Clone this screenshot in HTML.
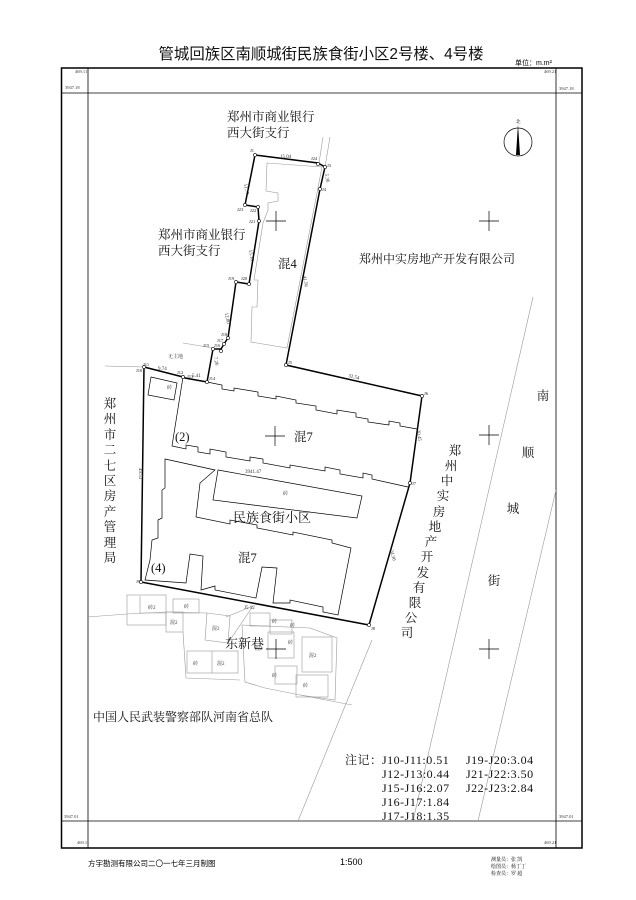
<!DOCTYPE html>
<html><head><meta charset="utf-8"><style>
html,body{margin:0;padding:0;background:#fff;}
svg{display:block;}
text{font-family:"Liberation Serif","Noto Serif CJK SC","Noto Sans CJK SC",serif;}
.s{font-family:"Liberation Sans","Noto Sans CJK SC",sans-serif;}
</style></head><body>
<svg width="636" height="900" viewBox="0 0 636 900" xmlns="http://www.w3.org/2000/svg">
<rect width="636" height="900" fill="#fff"/>
<text x="321" y="59" font-size="15.4" text-anchor="middle" class="s" fill="#111">管城回族区南顺城街民族食街小区2号楼、4号楼</text>
<text x="515" y="65" font-size="7" class="s">单位：m.m²</text>
<rect x="61.5" y="68" width="520.5" height="780" fill="none" stroke="#000" stroke-width="1.5"/>
<line x1="88" y1="68" x2="88" y2="848" stroke="#000" stroke-width="0.8"/>
<line x1="556" y1="68" x2="556" y2="848" stroke="#000" stroke-width="0.8"/>
<line x1="61" y1="93" x2="582" y2="93" stroke="#000" stroke-width="0.8"/>
<line x1="61" y1="821" x2="582" y2="821" stroke="#000" stroke-width="0.8"/>
<g font-size="4.5" class="s" fill="#333">
<text x="75" y="73">469.11</text><text x="65" y="89">3947.18</text>
<text x="544" y="73">469.21</text><text x="559" y="90">3947.18</text>
<text x="64" y="818">3947.01</text><text x="77" y="844">469.11</text>
<text x="559" y="818">3947.01</text><text x="544" y="844">469.21</text>
</g>
<g stroke="#999" stroke-width="0.6" fill="none">
<line x1="323" y1="137" x2="319" y2="163"/>
<line x1="330" y1="137" x2="325" y2="167"/>
<line x1="533" y1="297" x2="413" y2="821"/>
<line x1="556" y1="490" x2="478" y2="821"/>
<line x1="372" y1="640" x2="298" y2="821"/>
<line x1="183" y1="343" x2="213" y2="348"/>
<line x1="105" y1="366" x2="144" y2="367"/>
<polyline points="87,617 127,614 166,612 207,613"/>
</g>
<polygon points="267,163 322,167 287,348 251,342 252,307 257,307 258,280 254,280 263,223 268,210 268,203 278,201 278,193 266,191" fill="none" stroke="#999" stroke-width="0.6"/>
<g stroke="#000" stroke-width="0.7" fill="none">
<polyline points="207,382 222,385 222,389 234,391 234,388 258,392 258,396 276,399 276,396 296,400 296,403 316,406 316,410 337,414 337,410 356,413 356,417 368,419 368,422 389,425 389,421 400,423 400,426 417,429"/>
<polyline points="183,377 172,446 186,449 186,445 198,447 198,452 210,454 210,449 226,452 226,457 250,461 250,457 263,459 263,463 290,468 290,465 325,471 325,467 340,470 340,474 363,478 363,473 372,475 372,479 408,487"/>
<polygon points="151,377 177,383 174,400 148,395"/>
<polygon points="165,459 215,470 200,483 196,517 230,524 230,520 257,525 257,528 293,535 293,532 332,540 332,543 351,548 338,615 323,612 323,607 290,600 290,603 273,603 277,568 262,567 256,598 215,590 215,586 201,590 203,556 190,554 186,583 145,580 150,560 152,540 158,538 158,520 162,518 162,490 165,488"/>
<polygon points="218,470 362,496 357,518 213,500"/>
</g>
<g stroke="#999" stroke-width="0.6" fill="none">
<rect x="127" y="595" width="39" height="30"/>
<line x1="140" y1="596" x2="140" y2="613"/><line x1="140" y1="613" x2="166" y2="613"/>
<rect x="173" y="599" width="26" height="14"/>
<rect x="166" y="612" width="17" height="20"/>
<polygon points="207,613 230,616 228,643 205,640"/>
<rect x="187" y="651" width="51" height="22"/><line x1="212" y1="651" x2="212" y2="673"/>
<polygon points="242,625 310,628 337,638 335,700 300,695 265,688 245,682"/>
<polyline points="183,632 186,678 240,680"/>
<rect x="250" y="613" width="20" height="13"/>
<rect x="270" y="620" width="22" height="14"/>
<rect x="268" y="632" width="26" height="26"/>
<rect x="302" y="637" width="30" height="35"/>
<rect x="275" y="666" width="22" height="18"/>
<rect x="296" y="675" width="32" height="22"/>
<line x1="226" y1="617" x2="253" y2="606"/>
<line x1="228" y1="643" x2="253" y2="606"/>
<line x1="300" y1="695" x2="352" y2="705"/>
</g>
<polygon points="255,155 318,163 325,167 320,189 286,365 422,396 410,483 369,625 141,582 144,367 183,377 185,378 207,382 213,349 221,349 224,344 228,338 236,282 249,284 259,221 258,207 245,205" fill="none" stroke="#000" stroke-width="1.5"/>
<g fill="#fff" stroke="#000" stroke-width="0.6">
<circle cx="255" cy="155" r="1.6"/><circle cx="318" cy="164" r="1.6"/><circle cx="325" cy="167" r="1.6"/><circle cx="320" cy="189" r="1.6"/><circle cx="286" cy="365" r="1.6"/><circle cx="422" cy="396" r="1.6"/><circle cx="410" cy="483" r="1.6"/><circle cx="369" cy="625" r="1.6"/><circle cx="141" cy="582" r="1.6"/><circle cx="144" cy="367" r="1.6"/><circle cx="183" cy="377" r="1.6"/><circle cx="207" cy="382" r="1.6"/><circle cx="213" cy="349" r="1.6"/><circle cx="221" cy="351" r="1.6"/><circle cx="224" cy="344" r="1.6"/><circle cx="228" cy="338" r="1.6"/><circle cx="236" cy="282" r="1.6"/><circle cx="249" cy="284" r="1.6"/><circle cx="259" cy="221" r="1.6"/><circle cx="258" cy="207" r="1.6"/><circle cx="245" cy="205" r="1.6"/>
</g>
<g font-size="4.5" fill="#222">
<text x="250" y="152">J1</text><text x="311" y="160">J24</text><text x="327" y="167">J3</text><text x="322" y="191">J4</text>
<text x="288" y="364">J5</text><text x="424" y="395">J6</text><text x="412" y="485">J7</text><text x="371" y="630">J8</text>
<text x="136" y="583">J9</text><text x="136" y="372">J10</text><text x="143" y="366">J11</text><text x="177" y="374">J12</text>
<text x="187" y="378">J13</text><text x="209" y="380">J14</text><text x="203" y="347">J15</text><text x="214" y="347">J16</text>
<text x="217" y="342">J17</text><text x="221" y="336">J18</text><text x="228" y="280">J19</text><text x="241" y="280">J20</text>
<text x="249" y="223">J21</text><text x="250" y="212">J22</text><text x="237" y="211">J23</text>
</g>
<g font-size="5" fill="#333">
<text x="280" y="158">15.04</text>
<text x="244" y="184" transform="rotate(80 244 184)">11.77</text>
<text x="249" y="250" transform="rotate(80 249 250)">15.18</text>
<text x="225" y="313" transform="rotate(80 225 313)">12.80</text>
<text x="303" y="276" transform="rotate(80 303 276)">41.56</text>
<text x="325" y="174" transform="rotate(80 325 174)">5.36</text>
<text x="348" y="377" transform="rotate(13 348 377)">32.54</text>
<text x="158" y="370">9.74</text><text x="192" y="377">5.41</text>
<text x="417" y="430" transform="rotate(83 417 430)">30.45</text>
<text x="390" y="550" transform="rotate(75 390 550)">24.30</text>
<text x="139" y="468" transform="rotate(90 139 468)">49.53</text>
<text x="214" y="357" transform="rotate(80 214 357)">7.26</text>
<text x="245" y="473">3941.47</text>
<text x="168" y="358">无主地</text>
<text x="167" y="389">砖</text><text x="283" y="495">砖</text>
<text x="148" y="609">砖2</text><text x="184" y="608">砖</text><text x="170" y="624">混2</text><text x="212" y="630">混2</text>
<text x="193" y="665">砖</text><text x="217" y="665">混2</text><text x="272" y="623">砖</text><text x="290" y="627">砖</text>
<text x="288" y="644">砖</text><text x="309" y="657">混2</text><text x="255" y="650">混2</text><text x="303" y="687">砖</text><text x="272" y="677">砖</text>
<text x="244" y="609">J5 12</text>
</g>
<g stroke="#000" stroke-width="0.7">
<path d="M266 221H286M276 211V231"/><path d="M479 221H499M489 211V231"/>
<path d="M265 436H285M275 426V446"/><path d="M479 435H499M489 425V445"/>
<path d="M479 649H499M489 639V659"/><path d="M266 649H286M276 639V659"/>
</g>
<circle cx="518" cy="142" r="14" fill="none" stroke="#000" stroke-width="0.7"/>
<polygon points="518,124 520,155 516,155" fill="#000"/>
<text x="516" y="123" font-size="4.5">北</text>
<g font-size="12.5" fill="#111">
<text x="227" y="121">郑州市商业银行</text><text x="227" y="137">西大街支行</text>
<text x="158" y="239">郑州市商业银行</text><text x="158" y="255">西大街支行</text>
<text x="359" y="263" font-size="12">郑州中实房地产开发有限公司</text>
<text x="278" y="268">混4</text>
<text x="294" y="441">混7</text>
<text x="175" y="441">(2)</text>
<text x="233" y="522" font-size="13">民族食街小区</text>
<text x="238" y="562">混7</text>
<text x="151" y="572">(4)</text>
<text x="225" y="648" font-size="13">东新巷</text>
<text x="93" y="721" font-size="12">中国人民武装警察部队河南省总队</text>
</g>
<g font-size="12.5" fill="#111" text-anchor="middle">
<text x="110" y="408">郑</text><text x="110" y="423">州</text><text x="110" y="439">市</text><text x="110" y="454">二</text><text x="110" y="470">七</text><text x="110" y="485">区</text><text x="110" y="500">房</text><text x="110" y="516">产</text><text x="110" y="531">管</text><text x="110" y="547">理</text><text x="110" y="562">局</text>
<text x="455" y="455">郑</text><text x="451" y="470">州</text><text x="447" y="485">中</text><text x="443" y="500">实</text><text x="439" y="516">房</text><text x="435" y="531">地</text><text x="431" y="546">产</text><text x="427" y="561">开</text><text x="423" y="577">发</text><text x="419" y="592">有</text><text x="415" y="607">限</text><text x="411" y="622">公</text><text x="407" y="637">司</text>
<text x="543" y="400">南</text><text x="528" y="457">顺</text><text x="513" y="513">城</text><text x="494" y="585">街</text>
</g>
<g font-size="12" fill="#111" letter-spacing="0.5">
<text x="345" y="764">注记：</text>
<text x="382" y="764">J10-J11:0.51</text><text x="466" y="764">J19-J20:3.04</text>
<text x="382" y="778">J12-J13:0.44</text><text x="466" y="778">J21-J22:3.50</text>
<text x="382" y="792">J15-J16:2.07</text><text x="466" y="792">J22-J23:2.84</text>
<text x="382" y="806">J16-J17:1.84</text>
<text x="382" y="820">J17-J18:1.35</text>
</g>
<text x="88" y="866" font-size="7.5" class="s">方宇勘测有限公司二〇一七年三月制图</text>
<text x="340" y="865" font-size="9" class="s">1:500</text>
<g font-size="5" class="s"><text x="491" y="861">测量员：张  凯</text><text x="491" y="868">绘图员：杨丁丁</text><text x="491" y="875">检查员：罗  超</text></g>
</svg>
</body></html>
